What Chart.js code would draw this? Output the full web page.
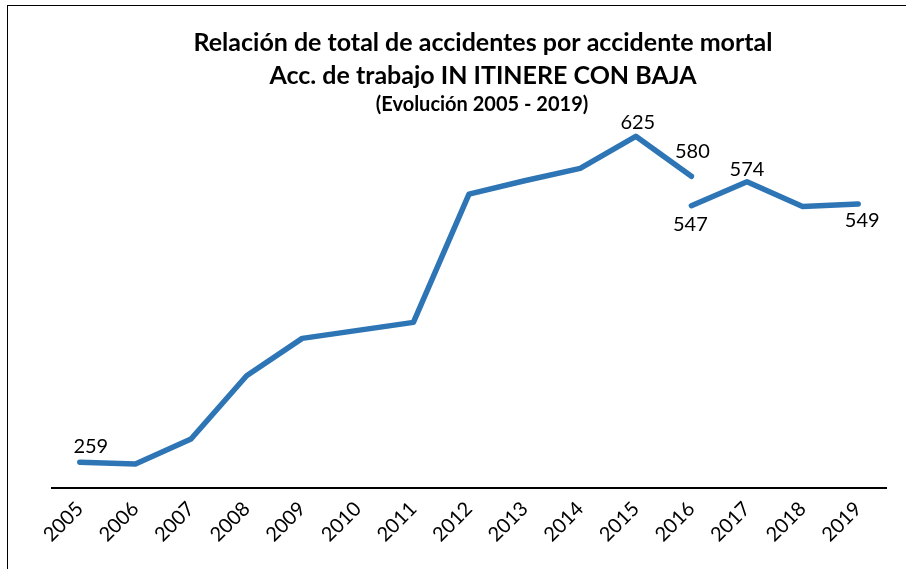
<!DOCTYPE html>
<html>
<head>
<meta charset="utf-8">
<script src="https://cdn.jsdelivr.net/npm/chart.js"></script>
<style>
  html, body { margin: 0; padding: 0; background: #fff; overflow: hidden; }
  #wrap { position: relative; width: 906px; height: 569px; }
  #frame {
    position: absolute; left: 7px; top: 5px; width: 920px; height: 600px;
    border: 1.5px solid #000; box-sizing: border-box; pointer-events: none;
  }
  canvas { position: absolute; left: 0; top: 0; }
</style>
</head>
<body>
<div id="wrap">
  <canvas id="chart" width="906" height="569"></canvas>
  <div id="frame"></div>
</div>
<script>
// Years on the category axis
const years = ['2005', '2006', '2007', '2008', '2009', '2010', '2011', '2012',
               '2013', '2014', '2015', '2016', '2017', '2018', '2019'];

// Series up to 2016 (old methodology) and from 2016 on (new methodology)
const seriesOld = [259, 257, 285, 356, 398, 407, 416, 560, 575, 589, 625, 580, null, null, null];
const seriesNew = [null, null, null, null, null, null, null, null, null, null, null, 547, 574, 546, 549];

// Which points carry a data label and where it sits (dx, dy from point)
const labelsOld = { 0: [11, -16], 10: [2, -14], 11: [1, -25] };
const labelsNew = { 11: [-1, 19], 12: [0, -12], 14: [4, 17] };

const titleLines = [
  'Relación de total de accidentes por accidente mortal',
  'Acc. de trabajo IN ITINERE CON BAJA',
  '(Evolución 2005 - 2019)'
];

const BLUE = '#2E75B6';
const FONT = "Lato, 'Open Sans', sans-serif";

const titlePlugin = {
  id: 'titleText',
  afterDraw(chart) {
    const ctx = chart.ctx;
    ctx.save();
    ctx.fillStyle = '#000';
    ctx.textAlign = 'center';
    ctx.textBaseline = 'middle';
    ctx.font = 'bold 25px ' + FONT;
    ctx.fillText(titleLines[0], 483, 43);
    ctx.fillText(titleLines[1], 483, 76);
    ctx.font = 'bold 20px ' + FONT;
    ctx.fillText(titleLines[2], 482, 105);
    ctx.restore();
  }
};

const pointLabels = {
  id: 'pointLabels',
  afterDatasetsDraw(chart) {
    const ctx = chart.ctx;
    ctx.save();
    ctx.fillStyle = '#000';
    ctx.textAlign = 'center';
    ctx.textBaseline = 'middle';
    ctx.font = '20px ' + FONT;
    [labelsOld, labelsNew].forEach((map, di) => {
      const meta = chart.getDatasetMeta(di);
      const data = chart.data.datasets[di].data;
      Object.keys(map).forEach(k => {
        const el = meta.data[k];
        const [dx, dy] = map[k];
        ctx.fillText(String(data[k]), el.x + dx, el.y + dy);
      });
    });
    ctx.restore();
  }
};

const lineStyle = {
  borderColor: BLUE,
  borderWidth: 5.5,
  borderCapStyle: 'round',
  borderJoinStyle: 'round',
  pointRadius: 0,
  tension: 0,
  fill: false,
  spanGaps: false
};

new Chart(document.getElementById('chart'), {
  type: 'line',
  data: {
    labels: years,
    datasets: [
      Object.assign({ label: 'Hasta 2016', data: seriesOld }, lineStyle),
      Object.assign({ label: 'Desde 2016', data: seriesNew }, lineStyle)
    ]
  },
  options: {
    responsive: false,
    animation: false,
    layout: { padding: { left: 52, right: 20, top: 114, bottom: 0 } },
    plugins: {
      legend: { display: false },
      tooltip: { enabled: false }
    },
    scales: {
      x: {
        offset: true,
        grid: { display: false, drawTicks: false },
        border: { display: true, color: '#000', width: 2 },
        ticks: {
          color: '#000',
          font: { family: FONT, size: 20 },
          maxRotation: 45,
          minRotation: 45,
          padding: 9,
          autoSkip: false
        },
        afterFit(axis) { axis.height = 81; }
      },
      y: {
        display: false,
        min: 230,
        max: 650
      }
    }
  },
  plugins: [titlePlugin, pointLabels]
});
</script>
</body>
</html>
